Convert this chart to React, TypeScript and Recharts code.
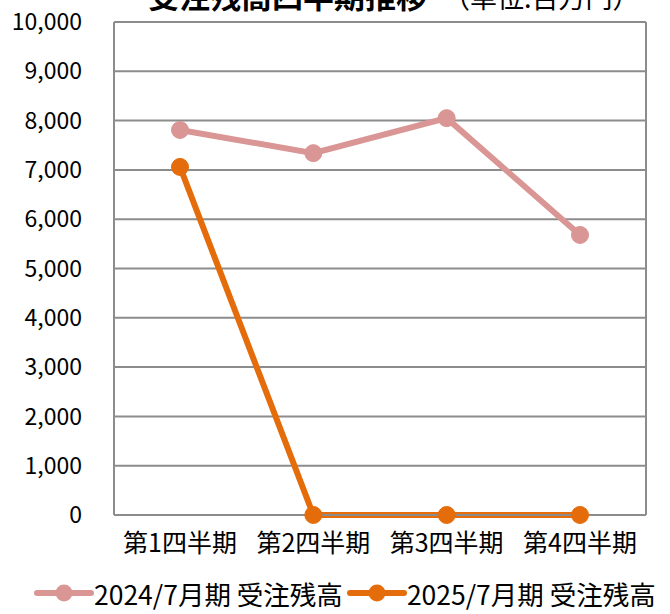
import React from 'react';
import {
  LineChart,
  Line,
  XAxis,
  YAxis,
  CartesianGrid,
  Legend,
} from 'recharts';

const quarters = ['第1四半期', '第2四半期', '第3四半期', '第4四半期'];
const backlog2024 = [7810, 7340, 8050, 5680];
const backlog2025 = [7060, 0, 0, 0];
const yTicks = [0, 1000, 2000, 3000, 4000, 5000, 6000, 7000, 8000, 9000, 10000];
const seriesNames = ['2024/7月期 受注残高', '2025/7月期 受注残高'];

const PINK = '#D99694';
const ORANGE = '#E46C0A';
const FONT = '"Noto Sans CJK JP", "Noto Sans", sans-serif';

const data = quarters.map((q, i) => ({
  quarter: q,
  y2024: backlog2024[i],
  y2025: backlog2025[i],
}));

function LegendContent() {
  const items = [
    { name: seriesNames[0], color: PINK },
    { name: seriesNames[1], color: ORANGE },
  ];
  return (
    <div
      style={{
        display: 'flex',
        justifyContent: 'flex-start',
        alignItems: 'center',
        height: 54,
        paddingTop: 12,
        paddingLeft: 34,
        fontFamily: FONT,
        fontSize: 26.5,
        color: '#000',
        whiteSpace: 'nowrap',
        boxSizing: 'border-box',
      }}
    >
      {items.map((it, i) => (
        <div key={it.name} style={{ display: 'flex', alignItems: 'center', marginLeft: i ? 4 : 0 }}>
          <svg width={60} height={20}>
            <line x1={3} y1={10} x2={57} y2={10} stroke={it.color} strokeWidth={6} strokeLinecap="round" />
            <circle cx={30} cy={10} r={8.5} fill={it.color} />
          </svg>
          <span>{it.name}</span>
        </div>
      ))}
    </div>
  );
}

export default function App() {
  return (
    <div style={{ position: 'absolute', left: 0, top: 0, width: 670, height: 614, overflow: 'hidden', background: '#fff' }}>
      <div
        style={{
          position: 'absolute',
          top: -21,
          left: 148,
          whiteSpace: 'nowrap',
          fontFamily: FONT,
          lineHeight: 1,
          color: '#000',
        }}
      >
        <span style={{ fontSize: 31, fontWeight: 700 }}>受注残高四半期推移</span>
        <span style={{ fontSize: 27, marginLeft: 16 }}>（単位:百万円）</span>
      </div>
      <LineChart
        width={670}
        height={614}
        data={data}
        margin={{ top: 22, right: 24, left: 0, bottom: 0 }}
      >
        <CartesianGrid
          stroke="#8c8c8c"
          strokeWidth={2}
          verticalCoordinatesGenerator={() => [114, 646]}
        />
        <XAxis
          dataKey="quarter"
          padding={{ left: 66, right: 66 }}
          axisLine={{ stroke: '#8c8c8c', strokeWidth: 2 }}
          tickLine={false}
          tickSize={17}
          height={45}
          tick={{ fontSize: 25, fill: '#000', fontFamily: FONT }}
        />
        <YAxis
          domain={[0, 10000]}
          ticks={yTicks}
          width={114}
          axisLine={false}
          tickLine={false}
          tickSize={30}
          tickFormatter={(v: number) => v.toLocaleString('en-US')}
          tick={{ fontSize: 23, fill: '#000', fontFamily: FONT }}
        />
        <Legend verticalAlign="bottom" height={54} content={<LegendContent />} />
        <Line
          dataKey="y2024"
          name={seriesNames[0]}
          stroke={PINK}
          strokeWidth={6}
          dot={{ r: 8.5, fill: PINK, stroke: PINK, strokeWidth: 1 }}
          isAnimationActive={false}
        />
        <Line
          dataKey="y2025"
          name={seriesNames[1]}
          stroke={ORANGE}
          strokeWidth={6}
          dot={{ r: 8.5, fill: ORANGE, stroke: ORANGE, strokeWidth: 1 }}
          isAnimationActive={false}
        />
      </LineChart>
    </div>
  );
}
